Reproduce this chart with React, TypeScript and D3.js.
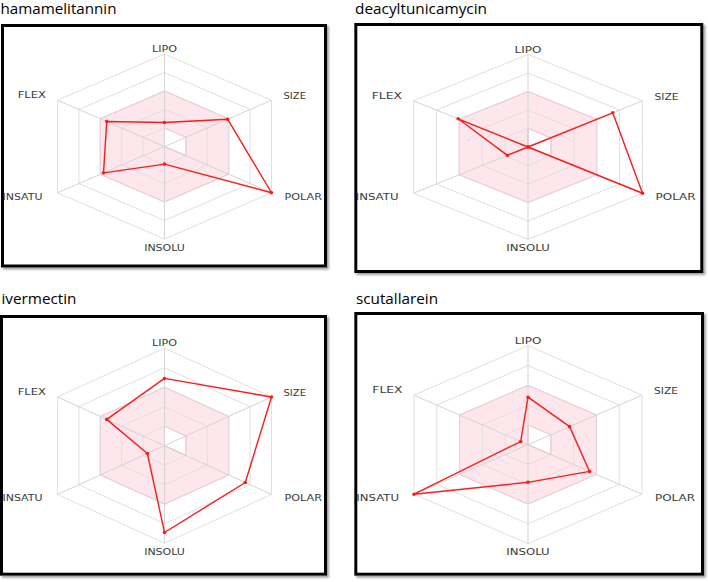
import React from "react";
import * as d3 from "d3";

// ---- data ----
const AXES = ["LIPO", "SIZE", "POLAR", "INSOLU", "INSATU", "FLEX"];
const COMPOUNDS = ["hamamelitannin", "deacyltunicamycin", "ivermectin", "scutallarein"];
const HAMAMELITANNIN = [0.26, 0.59, 1.0, 0.19, 0.57, 0.54];
const DEACYLTUNICAMYCIN = [0.0, 0.74, 1.0, 0.0, 0.18, 0.61];
const IVERMECTIN = [0.69, 1.0, 0.755, 0.89, 0.16, 0.54];
const SCUTALLAREIN = [0.48, 0.365, 0.54, 0.38, 1.0, 0.064];
const SERIES = [HAMAMELITANNIN, DEACYLTUNICAMYCIN, IVERMECTIN, SCUTALLAREIN];
const GRID_LEVELS = [0.2, 0.4, 0.6, 0.8, 1.0];
const OPTIMAL_OUTER = [0.6, 0.6, 0.6, 0.6, 0.6, 0.6];
const OPTIMAL_INNER = [0.2, 0.2, 0.2, 0, 0, 0];

// ---- layout (style only) ----
const PANELS = [
  { cx: 164.5, cy: 146.5, hx: 107, ry: 92.5, box: [2.5, 25.5, 323, 240.5], tx: 0.5, ty: 14, tw: 116 },
  { cx: 528, cy: 147, hx: 114.5, ry: 92.5, box: [355.8, 24.5, 346, 247], tx: 355, ty: 14, tw: 132 },
  { cx: 164.5, cy: 445.7, hx: 107, ry: 97.5, box: [1.5, 316.5, 324, 257.7], tx: 1.5, ty: 304, tw: 75 },
  { cx: 528, cy: 444.7, hx: 114, ry: 99, box: [355.8, 313.5, 346.7, 260.7], tx: 356, ty: 304, tw: 82 },
];
const LABEL_POS = [
  { dx: 0, dy: -2, anchor: "middle", w: 25 },
  { dx: 12, dy: -1, anchor: "start", w: 22.5 },
  { dx: 13, dy: 7, anchor: "start", w: 37.5 },
  { dx: 0, dy: 11.5, anchor: "middle", w: 40.7 },
  { dx: -15, dy: 7, anchor: "end", w: 40 },
  { dx: -11.5, dy: -2, anchor: "end", w: 28.3 },
];

const COS30 = Math.cos(Math.PI / 6);

function Panel({ idx }: { idx: number }) {
  const p = PANELS[idx];
  const values = SERIES[idx];
  const xs = d3.scaleLinear().domain([-1, 1]).range([p.cx - p.hx, p.cx + p.hx]);
  const ys = d3.scaleLinear().domain([-1, 1]).range([p.cy - p.ry, p.cy + p.ry]);
  const angle = d3.scaleLinear().domain([0, AXES.length]).range([-Math.PI / 2, (3 * Math.PI) / 2]);
  const pt = (i: number, v: number): [number, number] => {
    const a = angle(i);
    return [xs((v * Math.cos(a)) / COS30), ys(v * Math.sin(a))];
  };
  const line = d3.line<[number, number]>().curve(d3.curveLinearClosed);
  const ring = (vals: number[]) => line(vals.map((v, i) => pt(i, v)))!;
  const optimalPath = ring(OPTIMAL_OUTER) + " " + ring(OPTIMAL_INNER);
  const dataPts = values.map((v, i) => pt(i, v));
  const [bx, by, bw, bh] = p.box;
  const ts = p.hx / 107;
  return (
    <g>
      <text x={p.tx} y={p.ty} fontFamily="'Open Sans', sans-serif" fontSize={15} fill="#000"
        textLength={p.tw} lengthAdjust="spacingAndGlyphs">{COMPOUNDS[idx]}</text>
      <rect x={bx} y={by} width={bw} height={bh} fill="#fff" stroke="#000" strokeWidth={3}
        filter="url(#shadow)" />
      <path d={optimalPath} fill="rgba(240,60,100,0.12)" fillRule="evenodd" stroke="#f2a3b1" strokeWidth={1} />
      {GRID_LEVELS.map((g) => (
        <path key={g} d={ring(AXES.map(() => g))} fill="none" stroke="#e0e0e0" strokeWidth={1} />
      ))}
      {AXES.map((a, i) => {
        const [x, y] = pt(i, 1);
        return <line key={a} x1={p.cx} y1={p.cy} x2={x} y2={y} stroke="#d4d4d4" strokeWidth={1} />;
      })}
      <path d={line(dataPts)!} fill="none" stroke="#ff1a1a" strokeWidth={1.4} strokeLinejoin="round" />
      {dataPts.map(([x, y], i) => (
        <circle key={i} cx={x} cy={y} r={1.8} fill="#ff1a1a" />
      ))}
      {AXES.map((a, i) => {
        const [x, y] = pt(i, 1);
        const lp = LABEL_POS[i];
        return (
          <text key={a} x={x + lp.dx} y={y + lp.dy} textAnchor={lp.anchor as any}
            fontFamily="'DejaVu Sans', sans-serif" fontSize={9} fill="#3a3a3a"
            textLength={lp.w * ts} lengthAdjust="spacingAndGlyphs">{a}</text>
        );
      })}
    </g>
  );
}

export default function App() {
  return (
    <svg width={708} height={582} viewBox="0 0 708 582"
      style={{ position: "absolute", left: 0, top: 0, background: "#fff" }}>
      <defs>
        <filter id="shadow" x="-5%" y="-5%" width="115%" height="115%">
          <feDropShadow dx={2} dy={2} stdDeviation={1} floodColor="#777" floodOpacity={0.7} />
        </filter>
      </defs>
      <rect x={0} y={0} width={708} height={582} fill="#fff" />
      {PANELS.map((_, i) => (
        <Panel key={i} idx={i} />
      ))}
    </svg>
  );
}
